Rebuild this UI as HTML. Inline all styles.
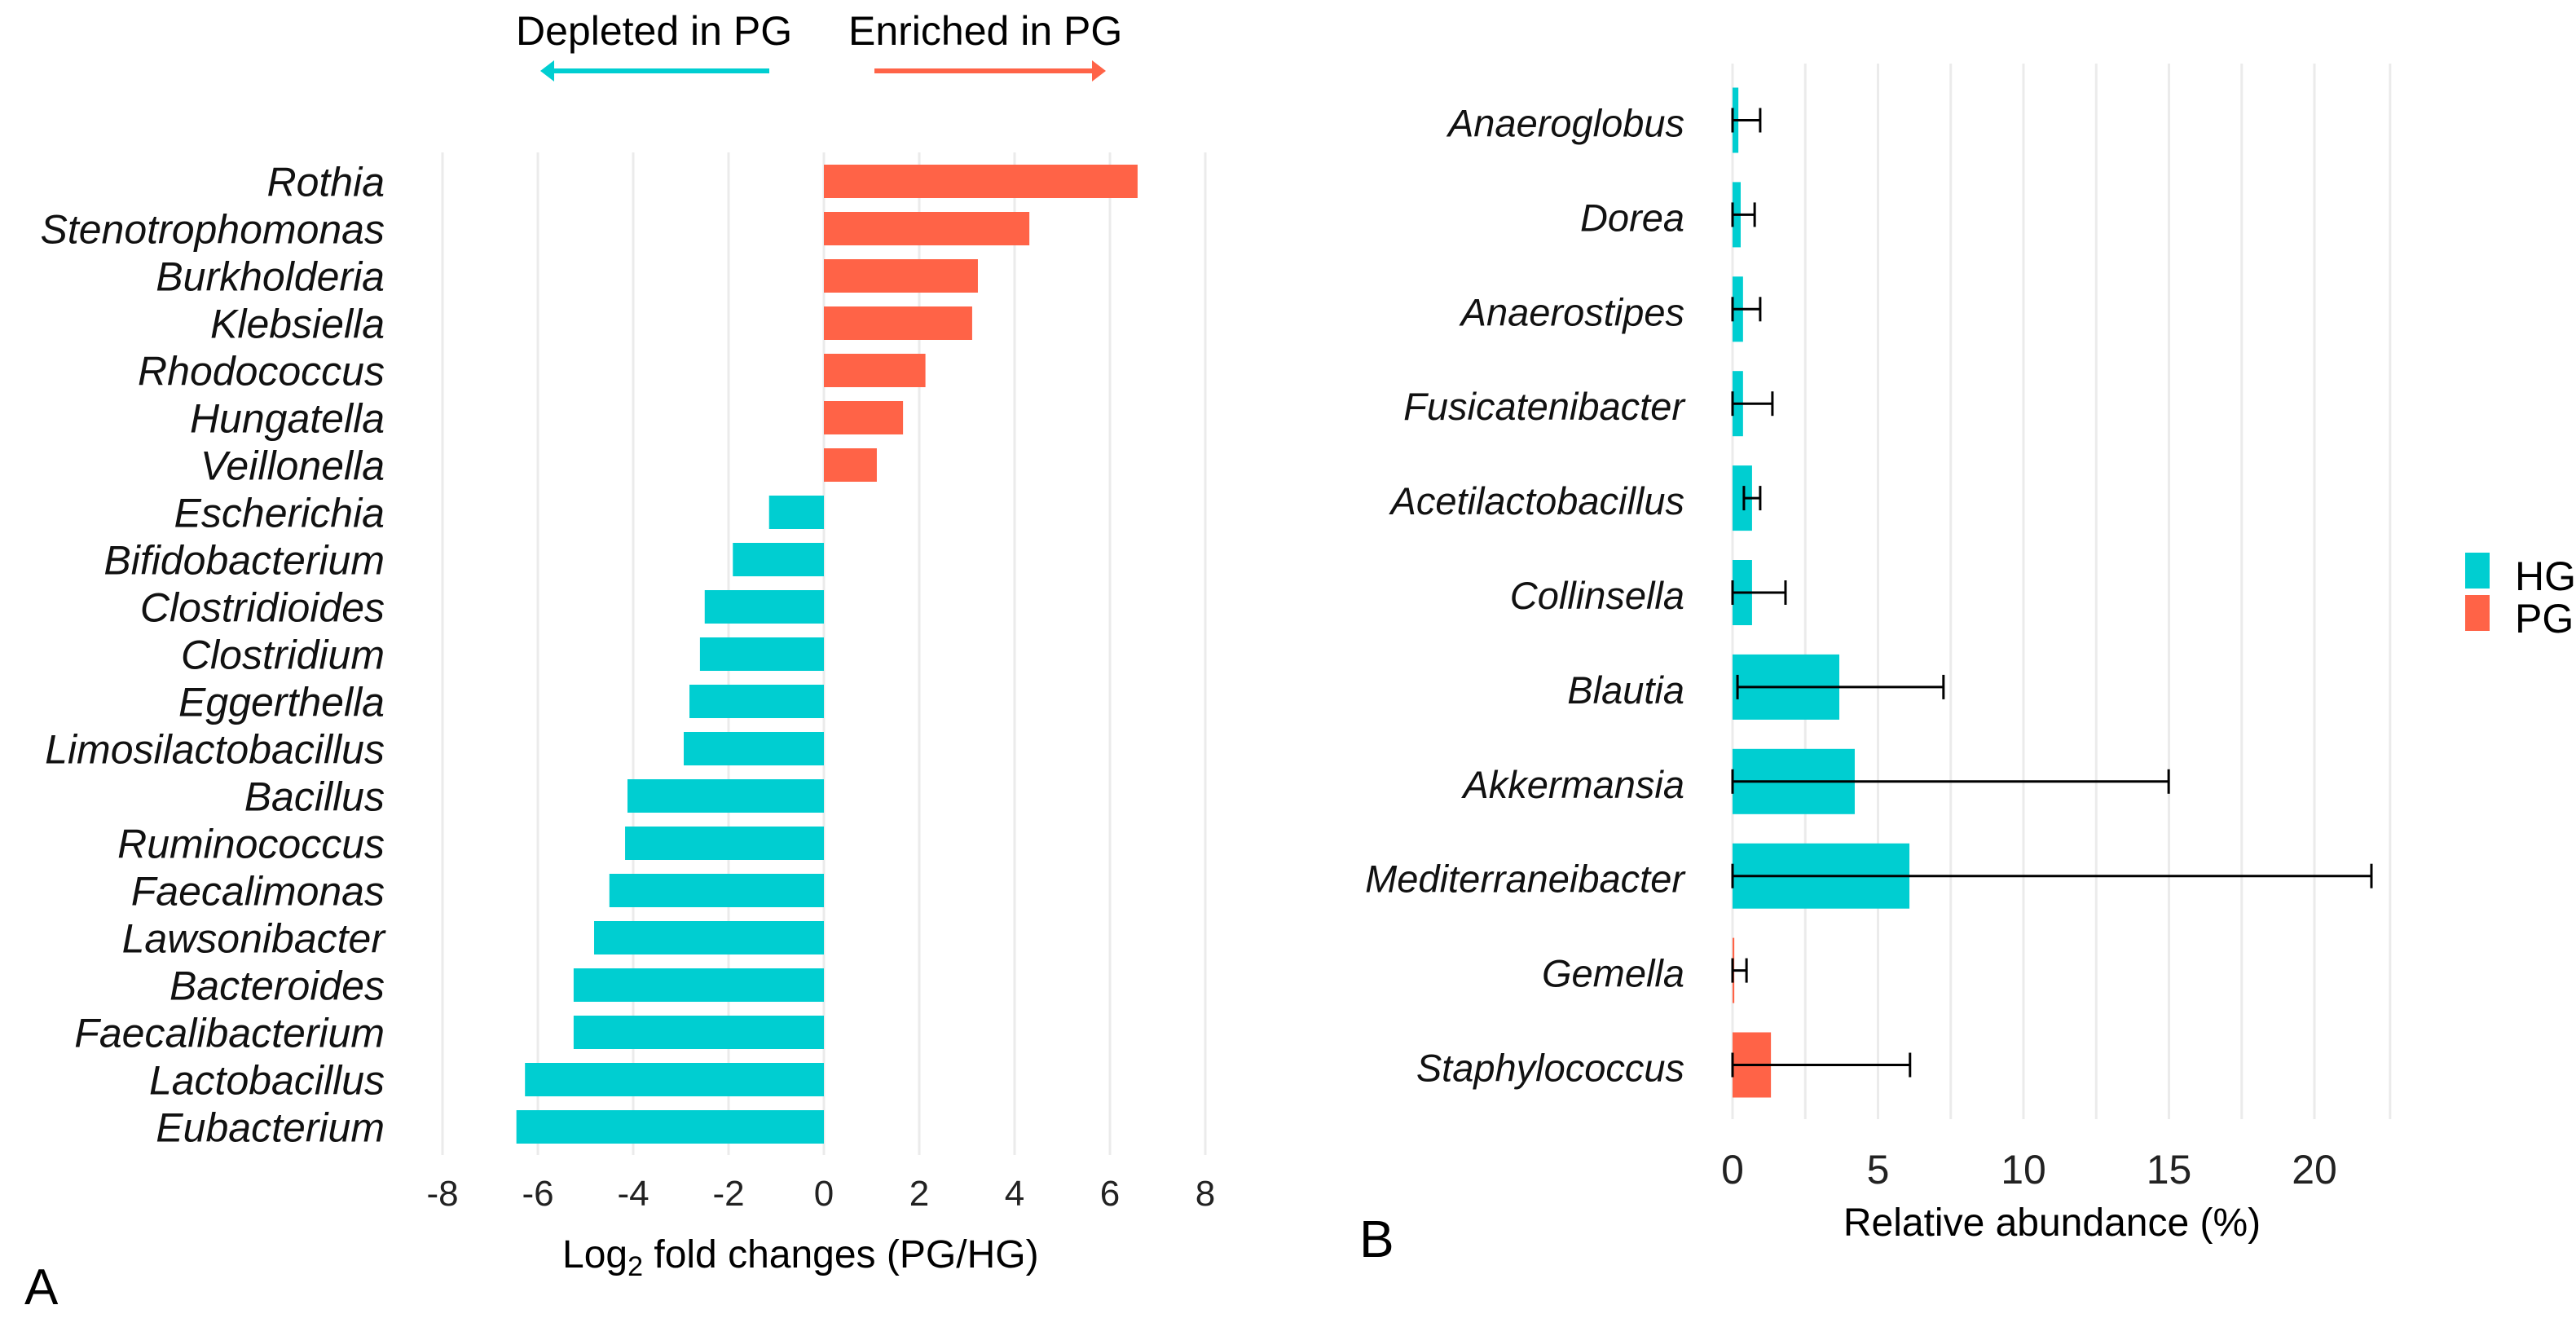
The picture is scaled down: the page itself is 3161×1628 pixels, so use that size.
<!DOCTYPE html>
<html><head><meta charset="utf-8"><style>
html,body{margin:0;padding:0;background:#fff;}
svg{display:block;font-family:"Liberation Sans",Arial,sans-serif;}
</style></head><body>
<svg id="chart" width="3161" height="1628" viewBox="0 0 3161 1628" xmlns="http://www.w3.org/2000/svg">
<g id="panelA"></g>
<g id="panelB"></g>
<text x="30" y="1600" font-size="62">A</text>
<text x="1668" y="1542" font-size="64">B</text>
<text x="633" y="55" font-size="50">Depleted in PG</text>
<text x="1041" y="55" font-size="50">Enriched in PG</text>
<g>
<line x1="944" y1="87" x2="676" y2="87" stroke="#00CED1" stroke-width="6"/>
<polygon points="663,87 680,74 680,100" fill="#00CED1"/>
</g>
<g>
<line x1="1073" y1="87" x2="1343" y2="87" stroke="#FF6347" stroke-width="6"/>
<polygon points="1357,87 1340,74 1340,100" fill="#FF6347"/>
</g>
<text x="690" y="1555" font-size="48">Log<tspan font-size="34" dy="10">2</tspan><tspan dy="-10"> fold changes (PG/HG)</tspan></text>
<text x="2518" y="1516" font-size="48" text-anchor="middle">Relative abundance (%)</text>
<rect x="3025" y="678" width="30" height="44" fill="#00CED1"/>
<rect x="3025" y="730" width="30" height="44" fill="#FF6347"/>
<text x="3086" y="724" font-size="50">HG</text>
<text x="3086" y="776" font-size="50">PG</text>
</svg>
<script>
const catsA = ["Rothia","Stenotrophomonas","Burkholderia","Klebsiella","Rhodococcus","Hungatella","Veillonella","Escherichia","Bifidobacterium","Clostridioides","Clostridium","Eggerthella","Limosilactobacillus","Bacillus","Ruminococcus","Faecalimonas","Lawsonibacter","Bacteroides","Faecalibacterium","Lactobacillus","Eubacterium"];
const valsA = [6.58,4.31,3.23,3.11,2.13,1.66,1.11,-1.15,-1.91,-2.5,-2.6,-2.82,-2.94,-4.12,-4.17,-4.5,-4.82,-5.25,-5.25,-6.27,-6.45];
const ticksA = [-8,-6,-4,-2,0,2,4,6,8];

const catsB = ["Anaeroglobus","Dorea","Anaerostipes","Fusicatenibacter","Acetilactobacillus","Collinsella","Blautia","Akkermansia","Mediterraneibacter","Gemella","Staphylococcus"];
const groupB = ["HG","HG","HG","HG","HG","HG","HG","HG","HG","PG","PG"];
const valsB = [0.2,0.28,0.36,0.36,0.67,0.67,3.67,4.2,6.08,0.06,1.32];
const errLowB = [0,0,0,0,0.39,0,0.17,0,0,0,0];
const errHighB = [0.95,0.76,0.95,1.37,0.95,1.82,7.25,14.99,21.96,0.48,6.1];
const ticksB = [0,5,10,15,20];
const gridB = [0,2.5,5,7.5,10,12.5,15,17.5,20,22.6];

const NS="http://www.w3.org/2000/svg";
const COL={HG:"#00CED1",PG:"#FF6347"};
function mk(parent,tag,attrs){const e=document.createElementNS(NS,tag);for(const k in attrs)e.setAttribute(k,attrs[k]);parent.appendChild(e);return e;}

// Panel A
const gA=document.getElementById("panelA");
const xA=v=>1011+v*58.5;
const yA=i=>222.5+i*58;
ticksA.forEach(t=>{
  const l=mk(gA,"line",{x1:xA(t),x2:xA(t),y1:187,y2:1417,stroke:"#ebebeb","stroke-width":3});
  
  
  const tx=mk(gA,"text",{x:xA(t),y:1479,"font-size":44,"text-anchor":"middle",fill:"#222"});
  tx.textContent=t;
  
  
});
catsA.forEach((c,i)=>{
  const v=valsA[i];
  const r=mk(gA,"rect",{x:Math.min(xA(0),xA(v)),y:yA(i)-20.5,width:Math.abs(xA(v)-xA(0)),height:41,fill:v>=0?COL.PG:COL.HG});
  
  
  const t=mk(gA,"text",{x:472,y:yA(i)+18,"font-size":50,"font-style":"italic","text-anchor":"end",fill:"#111"});
  t.textContent=c;
  
  
});

// Panel B
const gB=document.getElementById("panelB");
const xB=v=>2126+v*35.7;
const yB=i=>147.5+i*115.9;
gridB.forEach(t=>{
  const l=mk(gB,"line",{x1:xB(t),x2:xB(t),y1:78,y2:1373,stroke:"#ebebeb","stroke-width":3});
  
  
});
ticksB.forEach(t=>{
  const tx=mk(gB,"text",{x:xB(t),y:1452,"font-size":50,"text-anchor":"middle",fill:"#222"});
  tx.textContent=t;
  
  
});
catsB.forEach((c,i)=>{
  const y=yB(i);
  const r=mk(gB,"rect",{x:xB(0),y:y-40,width:Math.max(2,xB(valsB[i])-xB(0)),height:80,fill:COL[groupB[i]]});
  
  
  const eg=mk(gB,"g",{stroke:"#000","stroke-width":3});
  
  
  mk(eg,"line",{x1:xB(errLowB[i]),x2:xB(errHighB[i]),y1:y,y2:y});
  mk(eg,"line",{x1:xB(errLowB[i]),x2:xB(errLowB[i]),y1:y-15,y2:y+15});
  mk(eg,"line",{x1:xB(errHighB[i]),x2:xB(errHighB[i]),y1:y-15,y2:y+15});
  const t=mk(gB,"text",{x:2067,y:y+20,"font-size":47,"font-style":"italic","text-anchor":"end",fill:"#111"});
  t.textContent=c;
  
  
});
</script>
</body></html>
